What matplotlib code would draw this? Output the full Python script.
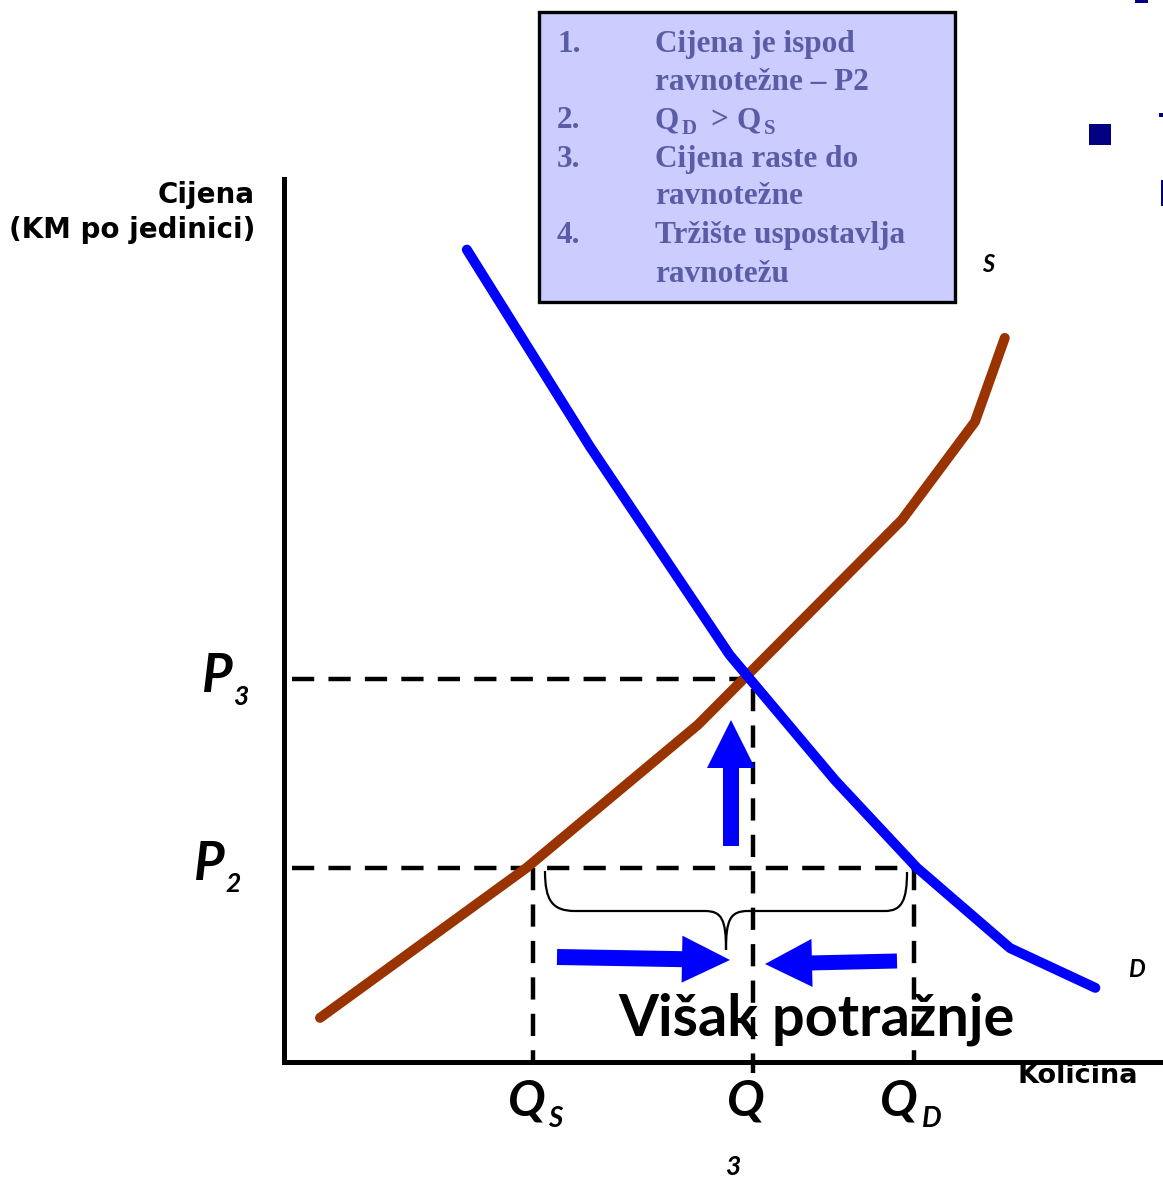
import matplotlib
matplotlib.use("Agg")
import matplotlib.pyplot as plt
from matplotlib.patches import Rectangle, FancyArrow, PathPatch
from matplotlib.path import Path

# supply and demand, quantity / price in chart units (0..100)
demand_q = [20.8, 34.8, 50.7, 62.7, 72.0, 82.6, 92.3]
demand_p = [92.0, 69.7, 46.1, 31.9, 22.0, 12.9, 8.4]
supply_q = [4.1, 27.6, 47.1, 52.4, 70.3, 78.6, 82.0]
supply_p = [5.0, 22.0, 38.2, 43.5, 61.4, 72.5, 82.0]

p3, p2 = 43.4, 22.0        # equilibrium price, price below equilibrium
q3, qs, qd = 53.4, 28.3, 71.7

steps = ["1.", "2.", "3.", "4."]
step_lines = [("Cijena je ispod", 0), ("ravnotežne – P2", 1), None,
              ("Cijena raste do", 0), ("ravnotežne", 1),
              ("Tržište uspostavlja", 0), ("ravnotežu", 1)]

BLUE = "#0000FF"
BROWN = "#993300"
BOX_TXT = "#5A5CA6"
NAVY = "#000080"
SANS = "Lato"
WIDE = "DejaVu Sans"
SERIF = "Liberation Serif"

W, H = 1163, 1178
fig = plt.figure(figsize=(W / 100, H / 100), dpi=100)

# chart axes: origin at (284, 1062) px, top of y axis at 179 px
ax = fig.add_axes([284 / W, (H - 1062) / H, (W - 284) / W, (1062 - 179) / H])
ax.set_xlim(0, 100)
ax.set_ylim(0, 100)
for side in ["top", "right"]:
    ax.spines[side].set_visible(False)
for side in ["left", "bottom"]:
    ax.spines[side].set_linewidth(3.6)
ax.set_xticks([])
ax.set_yticks([])

dash = dict(color="black", lw=3.2, dashes=(5, 3.2), clip_on=False)
ax.plot([0.9, q3], [p3, p3], **dash)
ax.plot([0.9, qd], [p2, p2], **dash)
ax.plot([q3, q3], [p3 - 1.2, -1.2], **dash)
ax.plot([qs, qs], [p2, 0], **dash)
ax.plot([qd, qd], [p2, 0], **dash)

ax.plot(supply_q, supply_p, color=BROWN, lw=7.2, solid_capstyle="round",
        solid_joinstyle="round", clip_on=False)
ax.plot(demand_q, demand_p, color=BLUE, lw=7.2, solid_capstyle="round",
        solid_joinstyle="round", clip_on=False)

# overlay in pixel units for labels, arrows, text box
ov = fig.add_axes([0, 0, 1, 1], facecolor="none")
ov.set_xlim(0, W)
ov.set_ylim(H, 0)
ov.axis("off")

ov.add_patch(Rectangle((539, 12), 416, 290, facecolor="#CCCCFF",
                       edgecolor="black", lw=2.4))
num_rows = [0, 2, 3, 5]
baselines = [52, 90, 128, 167, 204, 243, 282]
bt = dict(color=BOX_TXT, fontfamily=SERIF, fontweight="bold", va="baseline")
for s, r in zip(steps, num_rows):
    ov.text(557, baselines[r], s, fontsize=22.5, **bt)
for i, item in enumerate(step_lines):
    if item is None:
        continue
    ov.text(655, baselines[i], item[0], fontsize=22.5, **bt)
# Q_D > Q_S
ov.text(655, 128, "Q", fontsize=22.5, **bt)
ov.text(682, 134, "D", fontsize=15, **bt)
ov.text(710, 128, ">", fontsize=22.5, **bt)
ov.text(737, 128, "Q", fontsize=22.5, **bt)
ov.text(764, 134, "S", fontsize=15, **bt)

# axis titles
ov.text(255, 203, "Cijena", fontsize=20, fontfamily=WIDE, fontweight="bold",
        ha="right", va="baseline")
ov.text(255, 238, "(KM po jedinici)", fontsize=20, fontfamily=WIDE,
        fontweight="bold", ha="right", va="baseline")
ov.text(1017, 1083, "Količina", fontsize=19.5, fontfamily=WIDE,
        fontweight="bold", va="baseline")

lab = dict(fontfamily=SANS, fontweight="bold", fontstyle="italic", va="baseline")
ov.text(202, 692, "P", fontsize=38, **lab)
ov.text(233, 705, "3", fontsize=19, **lab)
ov.text(194, 880, "P", fontsize=38, **lab)
ov.text(225, 892, "2", fontsize=19, **lab)
ov.text(508, 1115, "Q", fontsize=36, **lab)
ov.text(555, 1127, "S", fontsize=20, ha="center", **lab)
ov.text(746, 1115, "Q", fontsize=36, ha="center", **lab)
ov.text(733, 1175, "3", fontsize=19, ha="center", **lab)
ov.text(880, 1115, "Q", fontsize=36, **lab)
ov.text(932, 1127, "D", fontsize=20, ha="center", **lab)
ov.text(988, 272, "S", fontsize=17, ha="center", **lab)
ov.text(1136, 977, "D", fontsize=17, ha="center", **lab)

ov.text(817, 1036, "Višak potražnje", fontsize=41.5, fontfamily=SANS,
        fontweight="bold", ha="center", va="baseline")

# brace over the shortage
verts = [(545, 871), (545, 900), (552, 911), (575, 911), (705, 911),
         (722, 911), (726, 920), (726, 950),
         (726, 920), (730, 911), (748, 911), (885, 911),
         (902, 911), (907, 900), (907, 872)]
codes = [Path.MOVETO, Path.CURVE4, Path.CURVE4, Path.CURVE4, Path.LINETO,
         Path.CURVE4, Path.CURVE4, Path.CURVE4,
         Path.CURVE4, Path.CURVE4, Path.CURVE4, Path.LINETO,
         Path.CURVE4, Path.CURVE4, Path.CURVE4]
ov.add_patch(PathPatch(Path(verts, codes), fill=False, lw=1.6, color="black"))

arr = dict(color=BLUE, length_includes_head=True, lw=0)
ov.add_patch(FancyArrow(557, 957, 173, 3, width=16, head_width=47,
                        head_length=48, **arr))
ov.add_patch(FancyArrow(897, 961, -132, 3, width=15, head_width=48,
                        head_length=47, **arr))
ov.add_patch(FancyArrow(731, 846, 0, -126, width=16, head_width=48,
                        head_length=48, **arr))

# bits of the slide at the right edge
for x0, y0, w, h in [(1135, 0, 13, 3), (1159, 113, 4, 4),
                     (1089, 124, 22, 21), (1161, 180, 2, 26)]:
    ov.add_patch(Rectangle((x0, y0), w, h, color=NAVY, lw=0))

fig.savefig("out.png", dpi=100)
